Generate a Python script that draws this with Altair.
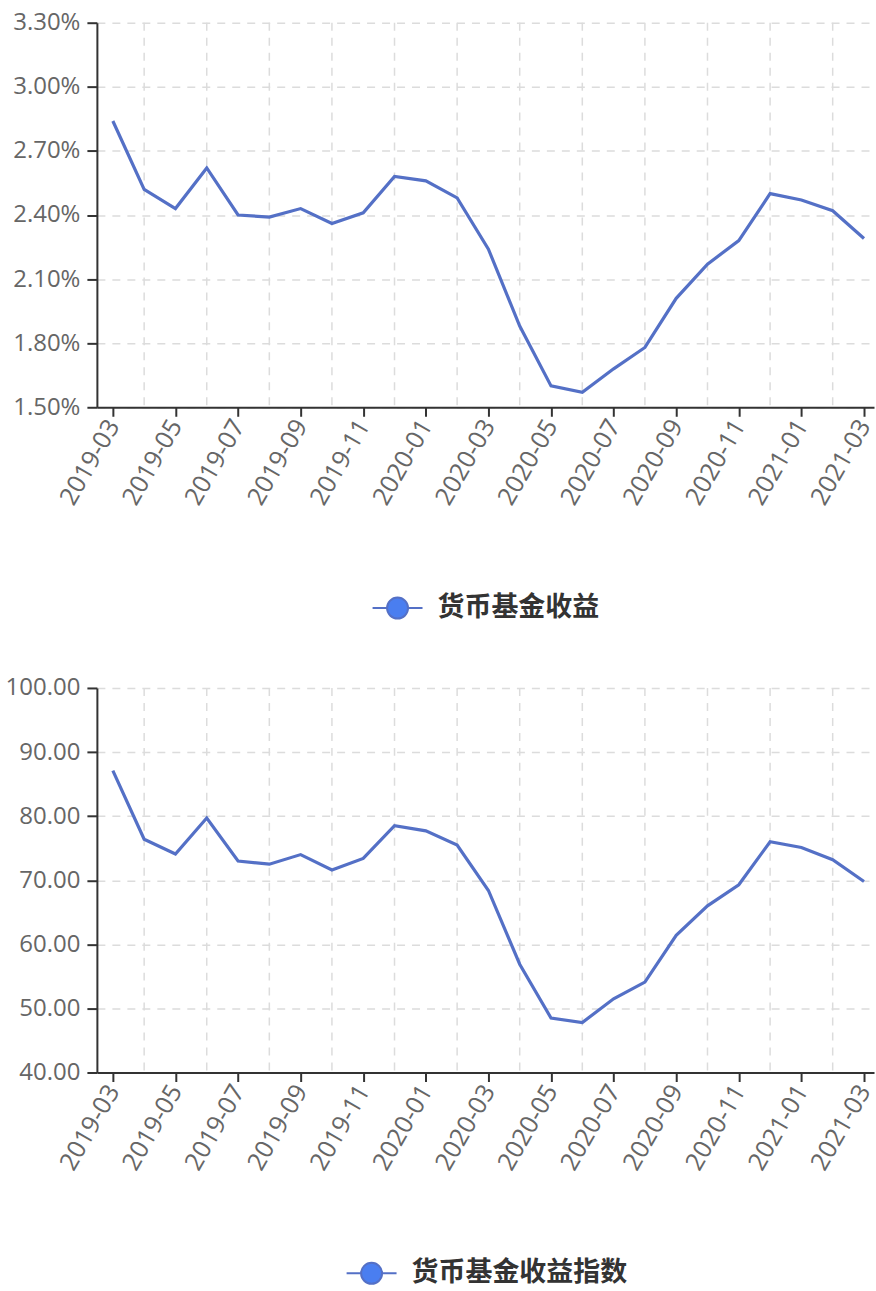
import altair as alt
import pandas as pd

months = ["2019-03", "2019-04", "2019-05", "2019-06", "2019-07", "2019-08", "2019-09",
          "2019-10", "2019-11", "2019-12", "2020-01", "2020-02", "2020-03", "2020-04",
          "2020-05", "2020-06", "2020-07", "2020-08", "2020-09", "2020-10", "2020-11",
          "2020-12", "2021-01", "2021-02", "2021-03"]

yield_pct = [2.84, 2.52, 2.43, 2.62, 2.40, 2.39, 2.43, 2.36, 2.41, 2.58, 2.56, 2.48, 2.24,
             1.88, 1.60, 1.57, 1.68, 1.78, 2.01, 2.17, 2.28, 2.50, 2.47, 2.42, 2.29]

index_vals = [87.1, 76.4, 74.1, 79.7, 73.0, 72.5, 74.0, 71.6, 73.4, 78.5, 77.7, 75.5, 68.4,
              56.9, 48.5, 47.8, 51.5, 54.1, 61.4, 66.0, 69.3, 76.0, 75.1, 73.2, 69.8]

series_top = "货币基金收益"
series_bottom = "货币基金收益指数"

yield_ticks = [1.5, 1.8, 2.1, 2.4, 2.7, 3.0, 3.3]
index_ticks = [40, 50, 60, 70, 80, 90, 100]

LINE = "#5470c6"
GRID = "#dcdcdc"
AXIS = "#333333"
LABEL = "#666666"
FONT = "Open Sans"
LEGEND_PATH = ("M-1,0L-0.42,0M0.42,0L1,0M0.42,0A0.42,0.42,0,1,1,-0.42,0"
               "A0.42,0.42,0,1,1,0.42,0Z")

idx = list(range(len(months)))
label_expr = "[" + ",".join("'%s'" % m for m in months) + "][datum.value]"
grid_df = pd.DataFrame({"i": [i for i in idx if i % 2 == 1]})

xscale = alt.Scale(domain=[-0.51, 24.32], nice=False, zero=False)
x_axis = alt.Axis(values=[i for i in idx if i % 2 == 0], labelExpr=label_expr,
                  labelAngle=-60, labelAlign="right", labelBaseline="middle",
                  labelPadding=5, tickSize=9, grid=False, title=None,
                  labelFontSize=25,
                  labelOverlap=False, labelBound=False, labelFlush=False)


def panel(values, name, ydomain, yticks, ylabel_expr, legend_x):
    df = pd.DataFrame({"i": idx, "v": values, "s": name})
    rules = alt.Chart(grid_df).mark_rule(color=GRID, strokeDash=[8, 7], strokeWidth=1.5).encode(
        x=alt.X("i:Q", scale=xscale, axis=x_axis)
    )
    line = alt.Chart(df).mark_line(strokeWidth=3.2).encode(
        x=alt.X("i:Q", scale=xscale, axis=x_axis),
        y=alt.Y("v:Q", scale=alt.Scale(domain=ydomain, nice=False, zero=False),
                axis=alt.Axis(values=yticks, labelExpr=ylabel_expr, grid=True,
                              gridColor=GRID, gridDash=[8, 7], gridWidth=1.5,
                              tickSize=10, labelPadding=7, labelFontSize=24, title=None)),
        color=alt.Color("s:N", scale=alt.Scale(range=[LINE]),
                        legend=alt.Legend(title=None, orient="none", legendX=legend_x,
                                          legendY=560, symbolType=LEGEND_PATH,
                                          symbolSize=2500, symbolStrokeWidth=2,
                                          symbolFillColor="#4a7ef0",
                                          symbolStrokeColor="#6f8fe0",
                                          labelFont="Noto Sans CJK SC", labelFontSize=27,
                                          labelFontWeight="bold", labelColor="#333333",
                                          labelOffset=14, labelLimit=500, padding=0)),
    )
    return alt.layer(rules, line).properties(width=778, height=385)


top = panel(yield_pct, series_top, [1.5, 3.3], yield_ticks,
            "format(datum.value, '.2f') + '%'", 275)
bottom = panel(index_vals, series_bottom, [40, 100], index_ticks,
               "format(datum.value, '.2f')", 249)

chart = alt.vconcat(top, bottom, spacing=281, bounds="flush").resolve_scale(
    y="independent", color="independent"
).resolve_legend(color="independent").properties(
    padding={"left": 5, "top": 10, "right": 0, "bottom": 0}
).configure_view(stroke=None).configure_axis(
    domainColor=AXIS, domainWidth=2, tickColor=AXIS, tickWidth=2,
    labelFont=FONT, labelFontSize=23, labelColor=LABEL
)

chart.save("out.html", embed_options={"renderer": "svg", "actions": False})
